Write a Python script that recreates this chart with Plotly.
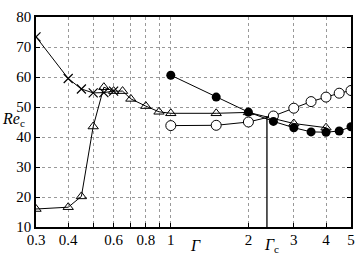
import math
import plotly.graph_objects as go

# data
cross_x = [0.3, 0.4, 0.45, 0.5, 0.55, 0.6]
cross_y = [73.4, 59.5, 56.0, 54.7, 54.8, 55.3]

tri_x = [0.3, 0.4, 0.45, 0.5, 0.55, 0.6, 0.65, 0.7, 0.8, 0.9, 1.0, 1.5, 2.0, 3.0, 4.0]
tri_y = [16.0, 16.6, 20.2, 43.5, 56.6, 55.3, 55.3, 52.7, 50.3, 48.4, 47.9, 47.9, 48.2, 44.5, 43.1]

fill_x = [1.0, 1.5, 2.0, 2.5, 3.0, 3.5, 4.0, 4.5, 5.0]
fill_y = [60.6, 53.3, 48.3, 45.2, 43.1, 41.7, 41.6, 42.0, 43.4]

open_x = [1.0, 1.5, 2.0, 2.5, 3.0, 3.5, 4.0, 4.5, 5.0]
open_y = [43.8, 43.9, 45.0, 47.0, 49.6, 51.8, 53.3, 54.6, 55.5]

gamma_c = 2.36
gamma_c_top = 47.0
gamma_label_x = 1.25

x_tickvals = [0.3, 0.4, 0.5, 0.6, 0.7, 0.8, 0.9, 1, 2, 3, 4, 5]
x_ticktext = ['0.3', '0.4', '', '0.6', '', '0.8', '', '1', '2', '3', '4', '5']
y_tickvals = [10, 20, 30, 40, 50, 60, 70, 80]
y_ticktext = ['10', '20', '30', '40', '50', '60', '70', '80']

FONT = "Liberation Serif"
line_style = dict(color="black", width=1)

fig = go.Figure()
fig.add_trace(go.Scatter(x=[gamma_c, gamma_c], y=[10, gamma_c_top], mode="lines",
                         line=dict(color="black", width=1.3), showlegend=False))
fig.add_trace(go.Scatter(x=tri_x, y=tri_y, mode="lines+markers", line=line_style,
                         marker=dict(symbol="triangle-up-open", size=9, color="black",
                                     line=dict(width=1)), showlegend=False))
fig.add_trace(go.Scatter(x=cross_x, y=cross_y, mode="lines+markers", line=line_style,
                         marker=dict(symbol="x-thin-open", size=9, color="black",
                                     line=dict(width=1.2, color="black")), showlegend=False))
fig.add_trace(go.Scatter(x=open_x, y=open_y, mode="lines+markers", line=line_style,
                         marker=dict(symbol="circle", size=10, color="white",
                                     line=dict(width=1, color="black")), showlegend=False))
fig.add_trace(go.Scatter(x=fill_x, y=fill_y, mode="lines+markers", line=line_style,
                         marker=dict(symbol="circle", size=9, color="black"), showlegend=False))

fig.update_xaxes(type="log", range=[math.log10(0.3), math.log10(5)],
                 tickvals=x_tickvals, ticktext=x_ticktext,
                 showgrid=True, gridcolor="#999", griddash="dot", gridwidth=1,
                 showline=True, linecolor="black", linewidth=1.5, mirror=True,
                 ticks="inside", ticklen=4, tickcolor="black", ticklabelstandoff=-2,
                 tickfont=dict(family=FONT, size=15, color="black"), zeroline=False)
fig.update_yaxes(range=[10, 80], tickvals=y_tickvals, ticktext=y_ticktext,
                 showgrid=True, gridcolor="#999", griddash="dot", gridwidth=1,
                 showline=True, linecolor="black", linewidth=1.5, mirror="ticks",
                 ticks="inside", ticklen=4, tickcolor="black",
                 tickfont=dict(family=FONT, size=15, color="black"), zeroline=False)

fig.add_annotation(text="<i>Re</i><sub>c</sub>", xref="paper", yref="y", x=-0.115, y=46,
                   showarrow=False, xanchor="left", font=dict(family=FONT, size=16, color="black"))
fig.add_annotation(text="<i>Γ</i>", xref="x", yref="paper", x=math.log10(gamma_label_x), y=0,
                   yshift=-8, showarrow=False, yanchor="top",
                   font=dict(family=FONT, size=16, color="black"))
fig.add_annotation(text="<i>Γ</i><sub>c</sub>", xref="x", yref="paper", x=math.log10(gamma_c), y=0,
                   yshift=-7, xshift=-5, xanchor="left", showarrow=False, yanchor="top",
                   font=dict(family=FONT, size=16, color="black"))

fig.update_layout(width=364, height=257, margin=dict(l=36, r=10, t=9, b=25),
                  plot_bgcolor="white", paper_bgcolor="white")
fig.write_html("out.html")
